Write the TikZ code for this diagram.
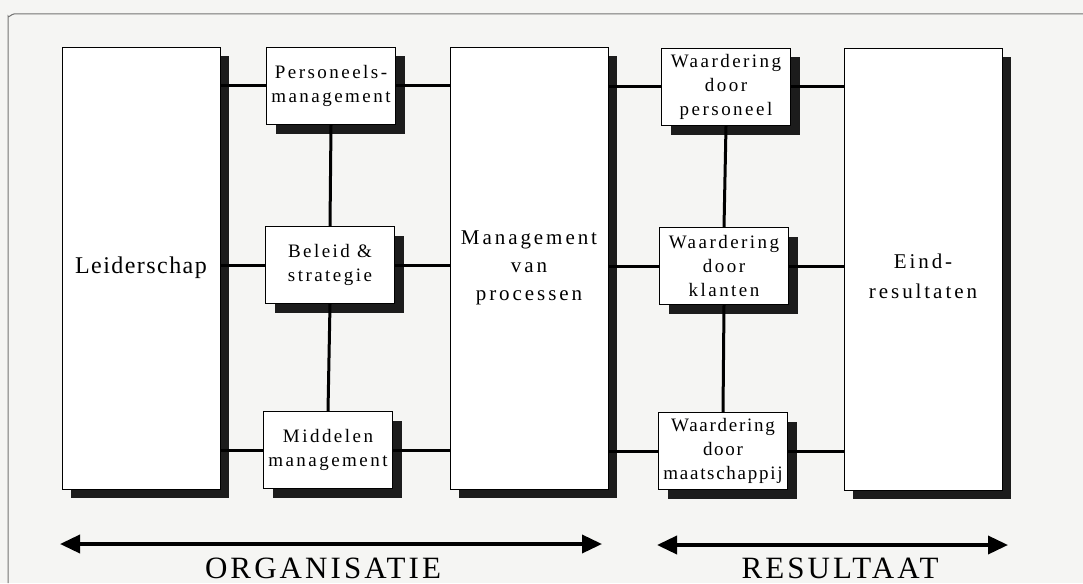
\documentclass[tikz,border=0pt]{standalone}
\usepackage{fontspec}
\setmainfont{Liberation Serif}
\newfontfamily\smallboxfont[LetterSpace=13]{Liberation Serif}
\newfontfamily\tightboxfont[LetterSpace=9]{Liberation Serif}
\newfontfamily\bigboxfont[LetterSpace=6]{Liberation Serif}
\newfontfamily\mgmtfont[LetterSpace=14]{Liberation Serif}
\newfontfamily\bandfont[LetterSpace=10]{Liberation Serif}
\usetikzlibrary{shadows,arrows.meta}
\definecolor{paper}{HTML}{F5F5F3}
\definecolor{shadowc}{HTML}{1C1C1C}
\tikzset{
  boxbase/.style={draw=black, line width=0.9pt, fill=white, inner sep=0pt, align=center,
    drop shadow={shadow xshift=9pt, shadow yshift=-9pt, fill=shadowc, opacity=1}},
  smallbox/.style={boxbase, minimum width=129pt, minimum height=77pt,
    font=\smallboxfont\fontsize{19}{24}\selectfont},
  bigbox/.style={boxbase, minimum width=158pt, minimum height=442pt,
    font=\bigboxfont\fontsize{24}{28}\selectfont},
  plaintext/.style={inner sep=0pt, align=center},
  link/.style={draw=black, line width=3pt},
  bandarrow/.style={draw=black, line width=3.6pt, {Triangle[length=20pt,width=18pt]}-{Triangle[length=20pt,width=18pt]}},
  bandlabel/.style={font=\bandfont\fontsize{31}{36}\selectfont, anchor=base, inner sep=0pt},
  framerule/.style={draw=black!55, line width=1pt}
}
\begin{document}
\begin{tikzpicture}[x=1pt,y=-1pt]
\fill[paper] (0,0) rectangle (1083,583);
\useasboundingbox (0,0) rectangle (1083,583);
\draw[framerule] (8,583) -- (8,16) to[out=-90,in=180] (14,14) -- (1083,14);

% big columns
\node[bigbox] (leid) at (141,268) {Leiderschap};
\node[bigbox, font=\mgmtfont\fontsize{21}{28}\selectfont] (mgmt) at (529,268) {Management\\van\\processen};
\node[bigbox] (eind) at (923,269) {};
\node[plaintext, font=\mgmtfont\fontsize{21}{30}\selectfont] (eindtxt) at ([yshift=-7pt]eind.center) {Eind-\\resultaten};

% organisation enablers
\node[smallbox] (pers) at (331,86) {Personeels-\\management};
\node[smallbox] (bel) at (330,265) {Beleid \&\\strategie};
\node[smallbox] (midd) at (328,450) {Middelen\\management};

% results
\node[smallbox] (wper) at (726,87) {Waardering\\door\\personeel};
\node[smallbox] (wkla) at (724,266) {Waardering\\door\\klanten};
\node[smallbox, font=\tightboxfont\fontsize{19}{24}\selectfont] (wmaa) at (723,451) {Waardering\\door\\maatschappij};

% connectors
\draw[link] (leid.east |- pers.west) -- (pers.west);
\draw[link] (pers.east) -- (mgmt.west |- pers.east);
\draw[link] (leid.east |- bel.west) -- (bel.west);
\draw[link] (bel.east) -- (mgmt.west |- bel.east);
\draw[link] (leid.east |- midd.west) -- (midd.west);
\draw[link] (midd.east) -- (mgmt.west |- midd.east);
\draw[link] (pers.south) -- (bel.north);
\draw[link] (bel.south) -- (midd.north);

\draw[link] (mgmt.east |- wper.west) -- (wper.west);
\draw[link] (wper.east) -- (eind.west |- wper.east);
\draw[link] (mgmt.east |- wkla.west) -- (wkla.west);
\draw[link] (wkla.east) -- (eind.west |- wkla.east);
\draw[link] (mgmt.east |- wmaa.west) -- (wmaa.west);
\draw[link] (wmaa.east) -- (eind.west |- wmaa.east);
\draw[link] (wper.south) -- (wkla.north);
\draw[link] (wkla.south) -- (wmaa.north);

% bands
\coordinate (orgL) at (60,544);
\coordinate (orgR) at (602,544);
\coordinate (resL) at (657,545);
\coordinate (resR) at (1008,545);
\draw[bandarrow] (orgL) -- (orgR);
\draw[bandarrow] (resL) -- (resR);
\node[bandlabel] (org) at (323,578) {ORGANISATIE};
\node[bandlabel] (res) at (840,578) {RESULTAAT};
\end{tikzpicture}
\end{document}
